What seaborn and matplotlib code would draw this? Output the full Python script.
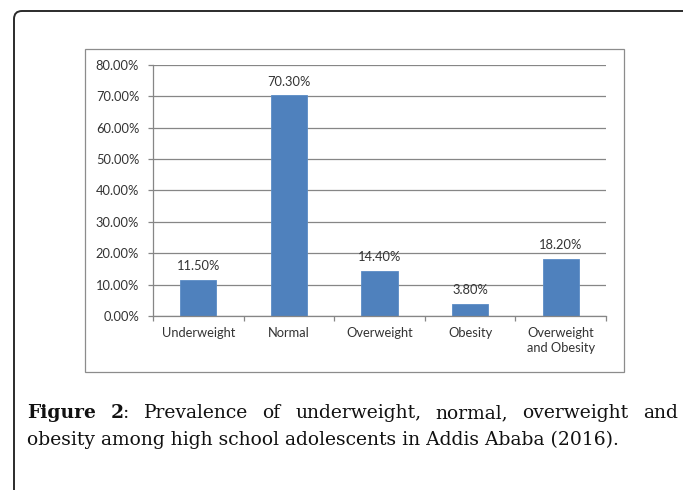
import matplotlib
matplotlib.use("Agg")
import matplotlib.pyplot as plt
import seaborn as sns
from matplotlib.patches import Rectangle, PathPatch
from matplotlib.path import Path
from matplotlib.transforms import IdentityTransform
from matplotlib.ticker import PercentFormatter

# ---- data -------------------------------------------------------------
categories = ["Underweight", "Normal", "Overweight", "Obesity", "Overweight\nand Obesity"]
prevalence = [0.115, 0.703, 0.144, 0.038, 0.182]
y_ticks = [0.0, 0.1, 0.2, 0.3, 0.4, 0.5, 0.6, 0.7, 0.8]

caption_line1 = [
    [("Figure", "bold")],
    [("2", "bold"), (":", "normal")],
    [("Prevalence", "normal")],
    [("of", "normal")],
    [("underweight,", "normal")],
    [("normal,", "normal")],
    [("overweight", "normal")],
    [("and", "normal")],
]
caption_line2 = "obesity among high school adolescents in Addis Ababa (2016)."

# ---- styling ----------------------------------------------------------
sns.set_style("white")
plt.rcParams["font.family"] = ["Lato", "DejaVu Sans"]

W, H = 683, 490
BAR = "#4F81BD"
GRID = "#868686"
TXT = "#333333"

fig = plt.figure(figsize=(W / 100, H / 100), dpi=100)
px = IdentityTransform()

# page frame: left and top edges only, with a rounded top-left corner
fx0, fy0, r = 14, H - 11, 8
frame = Path([(fx0, -10), (fx0, fy0 - r), (fx0, fy0), (fx0 + r, fy0), (W + 20, fy0)],
             [Path.MOVETO, Path.LINETO, Path.CURVE3, Path.CURVE3, Path.LINETO])
fig.add_artist(PathPatch(frame, transform=px, fill=False, ec="#2b2b2b", lw=1.4))

# chart area border
fig.add_artist(Rectangle((85, H - 372), 624 - 85, 372 - 49, transform=px,
                         fill=False, ec="#8C8C8C", lw=0.9))

# plot area
x0, x1, ytop, ybot = 153, 606, 65, 316
ax = fig.add_axes([x0 / W, 1 - ybot / H, (x1 - x0) / W, (ybot - ytop) / H])

sns.barplot(x=categories, y=prevalence, color=BAR, saturation=1, width=0.4,
            edgecolor="#5b8cc6", linewidth=0.6, ax=ax)

ax.set_xlim(-0.5, len(categories) - 0.5)
ax.set_ylim(0, 0.8)
ax.set_yticks(y_ticks)
ax.yaxis.set_major_formatter(PercentFormatter(xmax=1, decimals=2))
ax.set_xlabel("")
ax.set_ylabel("")

ax.set_axisbelow(True)
ax.yaxis.grid(True, color=GRID, lw=0.9)
ax.xaxis.grid(False)
for s in ("top", "right"):
    ax.spines[s].set_visible(False)
for s in ("left", "bottom"):
    ax.spines[s].set_color(GRID)
    ax.spines[s].set_linewidth(0.9)

ax.tick_params(axis="y", which="major", direction="out", length=3.6, width=0.9,
               color=GRID, labelcolor=TXT, labelsize=9.3, pad=6.3, left=True)
ax.tick_params(axis="x", which="major", length=0, labelcolor=TXT, labelsize=9.3, pad=8)
ax.set_xticks([i - 0.5 for i in range(len(categories) + 1)], minor=True)
ax.tick_params(axis="x", which="minor", direction="out", length=3.6, width=0.9,
               color=GRID, bottom=True)
for lab in ax.get_xticklabels():
    lab.set_linespacing(1.3)

ax.bar_label(ax.containers[0], labels=[f"{v:.2%}" for v in prevalence],
             padding=5.5, fontsize=9.3, color=TXT)

# ---- caption ----------------------------------------------------------
serif = "DejaVu Serif"
renderer = fig.canvas.get_renderer()
left_px, right_px = 27, 678
probe = fig.text(0, 0, caption_line2, family=serif, fontsize=10)
w10 = probe.get_window_extent(renderer).width
probe.remove()
cap_size = 10 * (622 - left_px) / w10

# line 1: justified between the caption margins
pieces = []
word_widths = []
for word in caption_line1:
    ww = 0
    segs = []
    for txt, weight in word:
        t = fig.text(0, 0, txt, family=serif, fontsize=cap_size, weight=weight,
                     color="#111111", transform=px, ha="left", va="baseline")
        w = t.get_window_extent(renderer).width
        segs.append((t, w))
        ww += w
    pieces.append(segs)
    word_widths.append(ww)
gap = (right_px - left_px - sum(word_widths)) / (len(caption_line1) - 1)
x = left_px
for segs, ww in zip(pieces, word_widths):
    xs = x
    for t, w in segs:
        t.set_position((xs, H - 418))
        xs += w
    x += ww + gap

fig.text(left_px, H - 445, caption_line2, family=serif, fontsize=cap_size,
         color="#111111", transform=px, ha="left", va="baseline")

fig.savefig("out.png", dpi=100)
